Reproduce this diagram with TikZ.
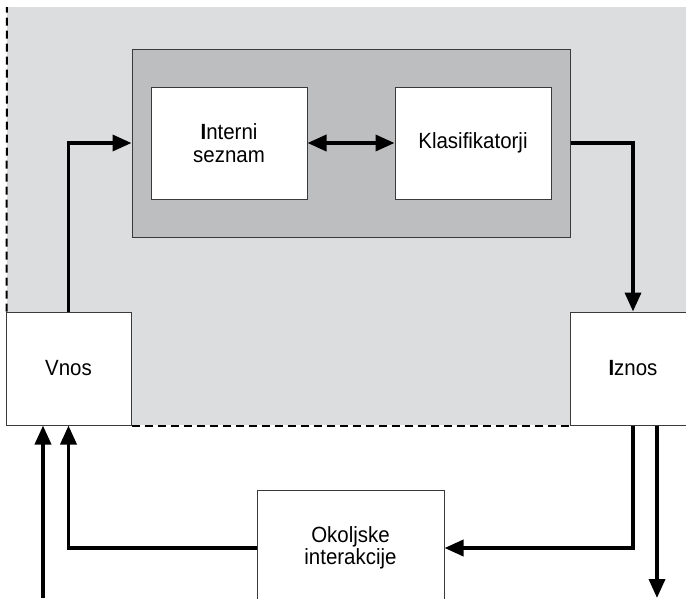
\documentclass[tikz,border=0pt]{standalone}
\usepackage{fontspec}
\setmainfont[FakeStretch=0.93]{Liberation Sans}
\usetikzlibrary{arrows.meta}
\definecolor{lightbg}{HTML}{DCDDDF}
\definecolor{darkbg}{HTML}{BDBEC0}
\definecolor{edge}{HTML}{3A3A3A}
\tikzset{
  box/.style={draw=edge, line width=1pt, fill=white, inner sep=0pt, align=center,
              font=\fontsize{22}{22.5}\selectfont},
  conn/.style={line width=3.6pt, line join=miter, -{Triangle[length=19pt,width=16pt]}},
  dconn/.style={line width=3.6pt, {Triangle[length=19pt,width=16pt]}-{Triangle[length=19pt,width=16pt]}},
  border/.style={line width=2pt, dash pattern=on 8pt off 5pt}
}
\begin{document}
\begin{tikzpicture}[x=1pt,y=-1pt]
\useasboundingbox (0,0) rectangle (686,598);
\fill[white] (0,0) rectangle (686,598);
% light region
\fill[lightbg] (7,7) rectangle (690,425);
\node[draw=edge, line width=1pt, fill=darkbg, minimum width=438pt, minimum height=188pt, inner sep=0pt] (core) at (351,143) {};
\node[box, minimum width=156pt, minimum height=112pt] (int) at (229,143) {\textbf{I}nterni\\seznam};
\node[box, minimum width=156pt, minimum height=112pt] (kla) at (473,143) {Klasifikatorji};
\node[box, minimum width=125pt, minimum height=113pt] (vnos) at (68.5,368.5) {Vnos};
\node[box, minimum width=126pt, minimum height=113pt] (iznos) at (633,368.5) {\textbf{I}znos};
\node[box, minimum width=187pt, minimum height=116pt] (oko) at (350.5,548) {Okoljske\\interakcije};
% dashed border
\draw[border] (vnos.north west) ++(1,0) -- (7,7);
\draw[border] (vnos.south east) -- (iznos.south west);
% connectors
\coordinate (in1) at (43,598);
\coordinate (out1) at (657,598);
\draw[conn] (vnos.north) |- (core.west);
\draw[dconn] (int.east) -- (kla.west);
\draw[conn] (core.east) -| (iznos.north);
\draw[conn] (iznos.south) |- (oko.east);
\draw[conn] (oko.west) -| (vnos.south);
\draw[conn] (in1) -- (in1 |- vnos.south);
\draw[conn] (out1 |- iznos.south) -- (out1);
\end{tikzpicture}
\end{document}
